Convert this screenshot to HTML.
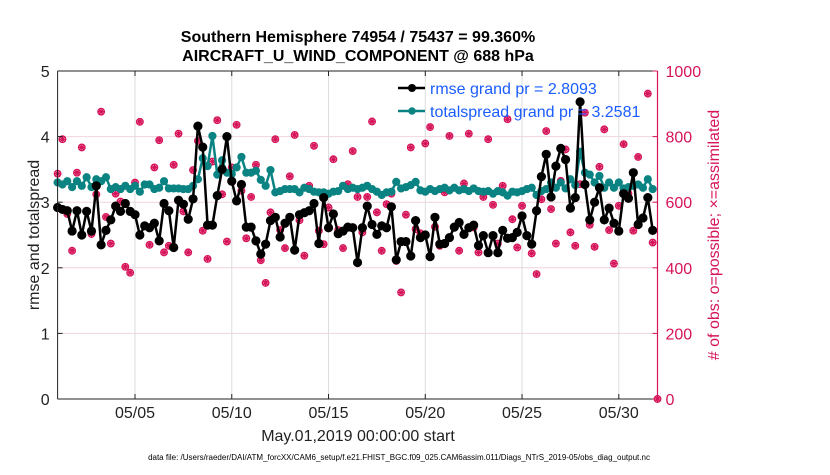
<!DOCTYPE html>
<html><head><meta charset="utf-8"><style>
body{margin:0;background:#fff;}
svg text{font-family:"Liberation Sans",sans-serif;}
</style></head><body>
<svg id="chart" width="830" height="470" viewBox="0 0 830 470" xmlns="http://www.w3.org/2000/svg">
<rect width="830" height="470" fill="#fff"/>
<g id="grid"></g>
<g id="marks"></g>
<g id="axes"></g>
</svg>
<script>
const rmse=[2.92,2.89,2.87,2.56,2.87,2.50,2.86,2.56,3.25,2.35,2.57,2.73,2.94,2.86,2.98,2.86,2.81,2.50,2.64,2.61,2.68,2.41,2.98,2.87,2.31,3.03,2.97,2.74,3.05,4.16,3.84,2.65,
2.65,3.10,3.50,4.00,3.32,3.02,3.27,2.62,2.62,2.41,2.21,2.36,2.72,2.77,2.47,2.68,2.77,2.27,2.81,2.84,2.87,2.98,2.37,3.07,2.61,2.82,2.52,2.56,2.62,2.61,2.08,
2.61,2.94,2.66,2.51,2.64,2.61,2.93,2.12,2.40,2.40,2.18,2.72,2.46,2.50,2.17,2.77,2.36,2.37,2.46,2.62,2.69,2.51,2.61,2.65,2.34,2.49,2.23,2.49,2.23,2.57,2.45,
2.46,2.54,2.79,2.49,2.36,2.87,3.39,3.73,3.08,3.55,3.82,3.65,2.91,3.07,4.53,3.27,2.73,3.00,3.22,2.73,2.91,2.68,2.56,3.13,3.06,3.45,2.66,2.76,3.07,2.57];
const spread=[3.30,3.27,3.32,3.23,3.32,3.25,3.38,3.23,3.35,3.32,3.38,3.20,3.23,3.20,3.25,3.20,3.25,3.16,3.27,3.27,3.20,3.22,3.32,3.21,3.21,3.21,3.20,3.20,3.25,3.35,3.67,3.55,
4.01,3.42,3.64,3.45,3.43,3.53,3.69,3.45,3.45,3.48,3.34,3.25,3.49,3.15,3.17,3.20,3.20,3.20,3.15,3.22,3.20,3.16,3.15,3.15,3.13,3.16,3.17,3.25,3.20,3.22,3.20,
3.22,3.25,3.20,3.16,3.11,3.15,3.16,3.31,3.21,3.23,3.26,3.31,3.18,3.16,3.20,3.17,3.20,3.22,3.18,3.22,3.18,3.20,3.17,3.21,3.17,3.16,3.17,3.13,3.17,3.15,3.10,
3.16,3.15,3.17,3.20,3.22,3.11,3.17,3.20,3.30,3.22,3.30,3.21,3.35,3.26,3.77,3.45,3.42,3.30,3.40,3.22,3.30,3.22,3.30,3.21,3.23,3.25,3.27,3.22,3.35,3.20];
const nobs=[687,792,564,452,690,767,572,503,624,876,555,474,626,602,403,385,660,845,528,470,706,789,447,467,714,809,572,447,698,787,513,427,
724,850,624,480,706,836,635,490,616,714,423,354,569,792,515,460,679,805,545,437,650,772,513,472,584,731,515,460,655,756,616,
508,616,846,569,452,594,626,421,325,562,767,518,505,779,829,525,467,630,802,525,452,657,809,523,447,616,792,592,474,650,853,
548,462,589,640,444,381,609,817,579,474,665,761,508,467,655,873,531,464,708,822,515,413,589,777,626,513,738,553,931,477,0];
const leftTicks=[0,1,2,3,4,5];
const rightTicks=[0,200,400,600,800,1000];
const dateTicks=[4,9,14,19,24,29];
const dateLabels=["05/05","05/10","05/15","05/20","05/25","05/30"];

const X0=57.6,X1=657.5,Y0=399,Y1=71,DAYS=31;
const xs=d=>X0+(d/DAYS)*(X1-X0);
const yl=v=>Y0-(v/5)*(Y0-Y1);
const yr=v=>Y0-(v/1000)*(Y0-Y1);
const NS="http://www.w3.org/2000/svg";
function mk(tag,attrs,parent){const e=document.createElementNS(NS,tag);for(const k in attrs)e.setAttribute(k,attrs[k]);parent.appendChild(e);return e;}
const grid=document.getElementById('grid'),marks=document.getElementById('marks'),axes=document.getElementById('axes');
const CR="#d6145a";

rightTicks.forEach(t=>{if(t>0&&t<1000){const l=mk('line',{x1:X0,x2:X1,y1:yr(t),y2:yr(t),stroke:"#f0d4de","stroke-width":1},grid);

}});
dateTicks.forEach(d=>{const l=mk('line',{x1:xs(d),x2:xs(d),y1:Y1,y2:Y0,stroke:"#dddddd","stroke-width":1},grid);

});

nobs.forEach((v,i)=>{const x=xs(i*0.25),y=yr(v);
const g=mk('g',{},marks);


mk('circle',{cx:x,cy:y,r:3.3,fill:"none",stroke:CR,"stroke-width":1.3},g);
mk('path',{d:`M${x-3.5} ${y}H${x+3.5}M${x} ${y-3.5}V${y+3.5}M${x-2.5} ${y-2.5}L${x+2.5} ${y+2.5}M${x-2.5} ${y+2.5}L${x+2.5} ${y-2.5}`,stroke:CR,"stroke-width":1.3},g);});

function series(arr,color,name,r){
const pts=arr.map((v,i)=>xs(i*0.25).toFixed(1)+","+yl(v).toFixed(1)).join(" ");
const pl=mk('polyline',{points:pts,fill:"none",stroke:color,"stroke-width":2.5,"stroke-linejoin":"round"},marks);


arr.forEach((v,i)=>{const c=mk('circle',{cx:xs(i*0.25),cy:yl(v),r:r,fill:color,stroke:color,"stroke-width":0.8},marks);

});}
series(spread,"#0b8383","totalspread",3.7);
series(rmse,"#000000","rmse",4.2);

mk('line',{x1:X0,x2:X1,y1:Y1,y2:Y1,stroke:"#222","stroke-width":1},axes);
mk('line',{x1:X0,x2:X1,y1:Y0,y2:Y0,stroke:"#222","stroke-width":1},axes);
mk('line',{x1:X0,x2:X0,y1:Y1,y2:Y0,stroke:"#222","stroke-width":1},axes);
mk('line',{x1:X1,x2:X1,y1:Y1,y2:Y0,stroke:CR,"stroke-width":1.2},axes);
leftTicks.forEach(t=>{mk('line',{x1:X0,x2:X0+5,y1:yl(t),y2:yl(t),stroke:"#222"},axes);
const tx=mk('text',{x:X0-8,y:yl(t)+6,"text-anchor":"end","font-size":16,fill:"#222"},axes);tx.textContent=t;

});
rightTicks.forEach(t=>{mk('line',{x1:X1-5,x2:X1,y1:yr(t),y2:yr(t),stroke:CR},axes);
const tx=mk('text',{x:X1+8,y:yr(t)+6,"font-size":16,fill:CR},axes);tx.textContent=t;

});
dateTicks.forEach((d,i)=>{mk('line',{x1:xs(d),x2:xs(d),y1:Y0,y2:Y0-5,stroke:"#222"},axes);
mk('line',{x1:xs(d),x2:xs(d),y1:Y1,y2:Y1+5,stroke:"#222"},axes);
const tx=mk('text',{x:xs(d),y:418,"text-anchor":"middle","font-size":16,fill:"#222"},axes);tx.textContent=dateLabels[i];

});
</script>
<svg style="position:absolute;left:0;top:0" width="830" height="470">
<text x="358" y="42" text-anchor="middle" font-size="16" font-weight="bold" fill="#000" font-family="Liberation Sans, sans-serif">Southern Hemisphere 74954 / 75437 = 99.360%</text>
<text x="358" y="61" text-anchor="middle" font-size="16" font-weight="bold" fill="#000" font-family="Liberation Sans, sans-serif">AIRCRAFT_U_WIND_COMPONENT @ 688 hPa</text>
<text transform="translate(39,235) rotate(-90)" text-anchor="middle" font-size="16" fill="#222" font-family="Liberation Sans, sans-serif">rmse and totalspread</text>
<text transform="translate(719,235) rotate(-90)" text-anchor="middle" font-size="16" fill="#d6145a" font-family="Liberation Sans, sans-serif"># of obs: o=possible; ×=assimilated</text>
<text x="358" y="441" text-anchor="middle" font-size="16" fill="#222" font-family="Liberation Sans, sans-serif">May.01,2019 00:00:00 start</text>
<text x="399" y="460" text-anchor="middle" font-size="8" fill="#000" font-family="Liberation Sans, sans-serif">data file: /Users/raeder/DAI/ATM_forcXX/CAM6_setup/f.e21.FHIST_BGC.f09_025.CAM6assim.011/Diags_NTrS_2019-05/obs_diag_output.nc</text>
<g>
<line x1="398" x2="425" y1="88" y2="88" stroke="#000" stroke-width="2.5"/><circle cx="412" cy="88" r="4" fill="#000"/>
<text x="430" y="94" font-size="16" fill="#1a5cff" font-family="Liberation Sans, sans-serif">rmse grand pr = 2.8093</text>
<line x1="398" x2="425" y1="111" y2="111" stroke="#0b8383" stroke-width="2.5"/><circle cx="412" cy="111" r="3.7" fill="#0b8383"/>
<text x="430" y="117" font-size="16" fill="#1a5cff" font-family="Liberation Sans, sans-serif">totalspread grand pr = 3.2581</text>
</g>
</svg>
</body></html>
